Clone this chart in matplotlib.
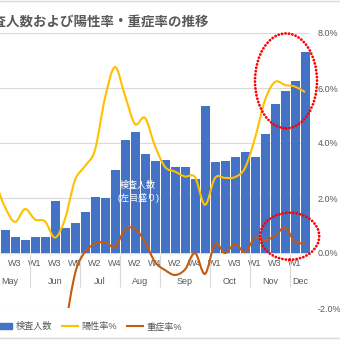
import numpy as np
import matplotlib
matplotlib.use("Agg")
import matplotlib.pyplot as plt
from matplotlib.path import Path
from matplotlib.patches import PathPatch, Patch, Ellipse
from matplotlib.lines import Line2D

plt.rcParams['font.family'] = ['Liberation Sans', 'Noto Sans CJK JP', 'DejaVu Sans']

# weekly categories (May W1 .. Dec W2)
months = ["May", "Jun", "Jul", "Aug", "Sep", "Oct", "Nov", "Dec"]
weeks_per_month = [4, 5, 4, 4, 5, 4, 4, 2]
weeks = [f"W{k + 1}" for n in weeks_per_month for k in range(n)]

# 検査人数 (left axis)
tests = [900, 836, 582, 473, 593, 593, 1902, 898, 1080, 1480, 2025, 1989,
         3018, 4109, 4382, 3589, 3345, 3364, 3116, 3138, 2709, 5345, 3298,
         3345, 3480, 3662, 3480, 4316, 5407, 5891, 6265, 7298]
# 陽性率% (right axis)
positive = [2.6, 1.67, 1.13, 1.6, 1.22, 1.15, 0.56, 1.24, 2.65, 3.16, 3.75,
            5.64, 6.76, 5.72, 4.69, 4.91, 3.89, 3.13, 2.96, 2.78, 2.76, 1.75,
            2.73, 2.73, 2.76, 3.09, 4.18, 5.56, 6.22, 6.11, 6.05, 5.85]
# 重症率% (right axis), early weeks lie below the chart floor
severe = [np.nan, np.nan, np.nan, np.nan, np.nan, np.nan, -7.0, -3.0, -0.76,
          0.04, 0.33, 0.4, 0.22, 0.85, 0.88, 0.4, -0.33, -0.62, -0.8, -0.6,
          0.0, -0.76, 0.33, 0.0, 0.33, 0.04, 0.55, 0.47, 0.62, 0.93, 0.4, 0.36]

BLUE = "#4472C4"
YELLOW = "#FFC000"
ORANGE = "#C55A11"
GRID = "#D9D9D9"
TXT = "#595959"


def smooth_path(xs, ys):
    # excel style smoothed line: bezier through every data point
    pts = np.array([(x, y) for x, y in zip(xs, ys) if not np.isnan(y)])
    verts = [pts[0]]
    codes = [Path.MOVETO]
    for i in range(len(pts) - 1):
        p0 = pts[i - 1] if i > 0 else pts[i]
        p1, p2 = pts[i], pts[i + 1]
        p3 = pts[i + 2] if i + 2 < len(pts) else p2
        verts += [p1 + (p2 - p0) / 6, p2 - (p3 - p1) / 6, p2]
        codes += [Path.CURVE4] * 3
    return Path(verts, codes)


fig = plt.figure(figsize=(3.4, 3.4), dpi=100)
W = H = 340.0
ax = fig.add_axes([-10 / W, 32 / H, 320 / W, 275 / H])
ax2 = ax.twinx()

x = np.arange(len(tests)) - 1
ax.bar(x, tests, width=0.9, color=BLUE, zorder=2)
ax.set_xlim(-1.5, 30.5)
ax.set_ylim(-2000, 8000)
ax.set_yticks(np.arange(-2000, 8001, 2000))
ax.yaxis.grid(True, color=GRID, lw=0.8)
ax.set_axisbelow(True)
ax.tick_params(axis='y', left=False, labelleft=False)
for s in ax.spines.values():
    s.set_visible(False)
for s in ax2.spines.values():
    s.set_visible(False)

# week labels on the zero line, every second category
ax.spines['bottom'].set_position(('data', 0))
ax.set_xticks(x[::2], weeks[::2])
ax.tick_params(axis='x', length=0, pad=4.5, labelsize=6.5, labelcolor=TXT)

# month row with separators
bounds = np.concatenate([[0], np.cumsum(weeks_per_month)]) - 1.5
ax.vlines(bounds, -1236, -73, color=GRID, lw=0.8)
for m, a, b in zip(months, bounds[:-1], bounds[1:]):
    ax.text((a + b) / 2, -1044, m, ha='center', va='center', fontsize=6.5, color=TXT)

ax.text(13.3, 2473, "検査人数", ha='center', va='center', fontsize=6.5, color='white')
ax.text(13.3, 2000, "(左目盛り)", ha='center', va='center', fontsize=6.5, color='white')

ax2.set_ylim(-2, 8)
ax2.set_yticks(np.arange(-2, 8.1, 2))
ax2.set_yticklabels([f"{v:.1f}%" for v in np.arange(-2, 8.1, 2)])
ax2.tick_params(axis='y', length=0, pad=5.5, labelsize=6.5, labelcolor=TXT)

ax2.add_patch(PathPatch(smooth_path(x, positive), fill=False, edgecolor=YELLOW, lw=1.5, zorder=3))
ax2.add_patch(PathPatch(smooth_path(x, severe), fill=False, edgecolor=ORANGE, lw=1.5, zorder=3))

dots = (0, (0.05, 1.2))
ax2.add_patch(Ellipse((28.1, 6.26), 6.2, 3.45, fill=False, edgecolor='red', lw=2,
                      ls=dots, capstyle='round', clip_on=False, zorder=4))
ax2.add_patch(Ellipse((28.47, 0.61), 5.9, 1.71, fill=False, edgecolor='red', lw=2,
                      ls=dots, capstyle='round', clip_on=False, zorder=4))

fig.text(-20.5 / W, 1 - 21.7 / H, "検査人数および陽性率・重症率の推移", ha='left', va='center',
         fontsize=9.7, fontweight='bold', color=TXT, family=['Noto Sans CJK JP', 'DejaVu Sans'])

handles = [Patch(color=BLUE), Line2D([], [], color=YELLOW, lw=1.5), Line2D([], [], color=ORANGE, lw=1.5)]
fig.legend(handles, ["検査人数", "陽性率%", "重症率%"], loc='center left',
           bbox_to_anchor=(-4 / W, 1 - 326.7 / H), ncol=3, frameon=False, fontsize=6.6,
           handlelength=1.8, handleheight=0.65, handletextpad=0.3, columnspacing=1.1,
           borderpad=0, borderaxespad=0, labelcolor=TXT)

fig.add_artist(Line2D([0, 1], [1 - 0.5 / H, 1 - 0.5 / H], color=GRID, lw=1))
fig.add_artist(Line2D([0, 1], [1 - 338 / H, 1 - 338 / H], color=GRID, lw=1))

fig.savefig("out.png", dpi=100)
